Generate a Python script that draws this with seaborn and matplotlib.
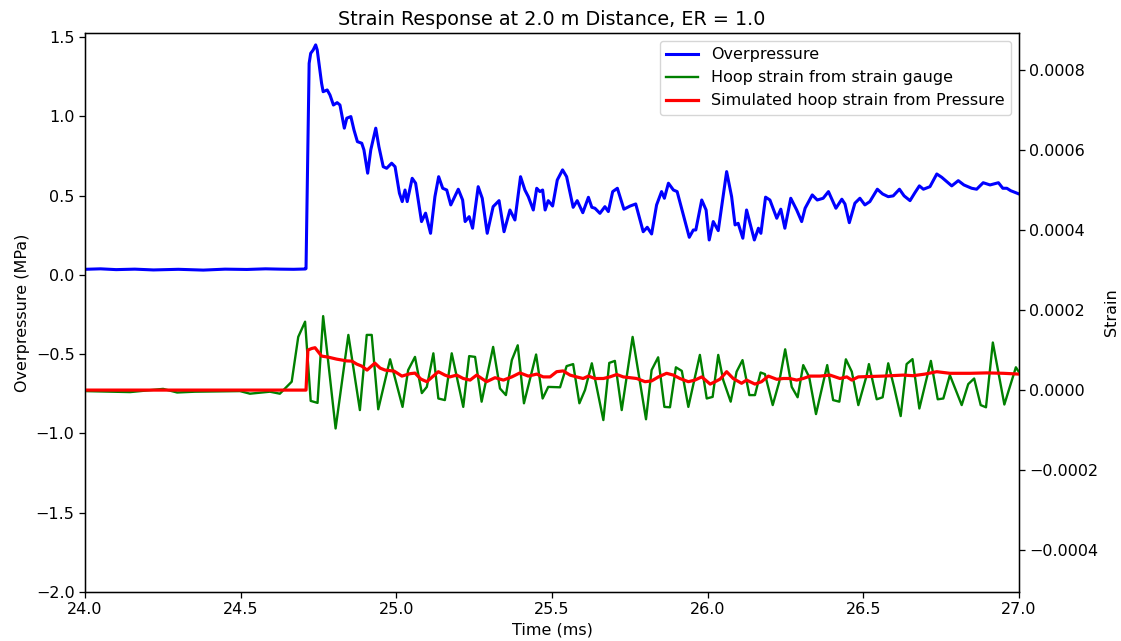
import numpy as np
import matplotlib
matplotlib.use("Agg")
import matplotlib.pyplot as plt
import seaborn as sns

# Overpressure record (time in ms, pressure in MPa)
p_time = [24.000, 24.050, 24.100, 24.160, 24.220, 24.300, 24.380, 24.450, 24.520, 24.580,
          24.626, 24.670, 24.708, 24.710, 24.720, 24.725, 24.733, 24.741, 24.746, 24.753,
          24.760, 24.765, 24.778, 24.787, 24.798, 24.810, 24.819, 24.833, 24.841, 24.854,
          24.864, 24.875, 24.889, 24.896, 24.908, 24.918, 24.934, 24.944, 24.958, 24.969,
          24.985, 24.996, 25.010, 25.019, 25.028, 25.035, 25.051, 25.062, 25.081, 25.094,
          25.110, 25.124, 25.136, 25.149, 25.162, 25.175, 25.199, 25.213, 25.221, 25.234,
          25.245, 25.263, 25.276, 25.292, 25.311, 25.330, 25.346, 25.365, 25.381, 25.399,
          25.413, 25.424, 25.440, 25.451, 25.461, 25.470, 25.478, 25.488, 25.502, 25.517,
          25.534, 25.547, 25.568, 25.581, 25.599, 25.617, 25.628, 25.638, 25.654, 25.670,
          25.681, 25.695, 25.710, 25.731, 25.751, 25.769, 25.793, 25.806, 25.820, 25.836,
          25.852, 25.861, 25.874, 25.890, 25.902, 25.941, 25.954, 25.962, 25.981, 25.995,
          26.005, 26.018, 26.034, 26.061, 26.077, 26.088, 26.098, 26.113, 26.125, 26.139,
          26.150, 26.163, 26.171, 26.186, 26.200, 26.222, 26.235, 26.248, 26.267, 26.286,
          26.302, 26.313, 26.336, 26.352, 26.371, 26.388, 26.412, 26.431, 26.441, 26.455,
          26.473, 26.489, 26.505, 26.521, 26.545, 26.562, 26.580, 26.596, 26.616, 26.631,
          26.650, 26.666, 26.680, 26.693, 26.714, 26.736, 26.752, 26.768, 26.784, 26.805,
          26.823, 26.848, 26.864, 26.885, 26.907, 26.934, 26.948, 26.961, 26.973, 26.993,
          27.000]
p_mpa = [0.035, 0.038, 0.033, 0.036, 0.031, 0.035, 0.030, 0.036, 0.034, 0.038,
         0.036, 0.035, 0.037, 0.040, 1.334, 1.397, 1.418, 1.450, 1.418, 1.313,
         1.208, 1.155, 1.166, 1.134, 1.071, 1.086, 1.071, 0.925, 0.988, 0.998,
         0.914, 0.840, 0.830, 0.788, 0.641, 0.788, 0.925, 0.809, 0.682, 0.672,
         0.704, 0.682, 0.515, 0.462, 0.535, 0.462, 0.609, 0.578, 0.336, 0.389,
         0.262, 0.493, 0.619, 0.546, 0.535, 0.441, 0.540, 0.472, 0.336, 0.367,
         0.294, 0.556, 0.483, 0.262, 0.430, 0.468, 0.272, 0.409, 0.346, 0.619,
         0.535, 0.493, 0.409, 0.546, 0.525, 0.535, 0.409, 0.468, 0.434, 0.598,
         0.662, 0.619, 0.426, 0.468, 0.392, 0.489, 0.426, 0.420, 0.388, 0.430,
         0.399, 0.525, 0.546, 0.414, 0.434, 0.447, 0.272, 0.300, 0.258, 0.441,
         0.525, 0.483, 0.578, 0.535, 0.525, 0.237, 0.283, 0.283, 0.472, 0.409,
         0.220, 0.336, 0.279, 0.651, 0.493, 0.315, 0.325, 0.231, 0.409, 0.304,
         0.220, 0.294, 0.262, 0.490, 0.472, 0.357, 0.414, 0.294, 0.483, 0.409,
         0.336, 0.420, 0.504, 0.472, 0.483, 0.525, 0.420, 0.477, 0.447, 0.329,
         0.452, 0.483, 0.441, 0.462, 0.540, 0.510, 0.493, 0.498, 0.540, 0.498,
         0.468, 0.519, 0.561, 0.540, 0.556, 0.636, 0.615, 0.588, 0.561, 0.594,
         0.567, 0.546, 0.540, 0.581, 0.567, 0.581, 0.546, 0.546, 0.531, 0.515,
         0.510]

# Strain gauge record (time in ms, hoop strain in microstrain)
g_time = [24.000, 24.145, 24.251, 24.296, 24.353, 24.498, 24.530, 24.594, 24.626, 24.664,
          24.685, 24.707, 24.725, 24.747, 24.765, 24.805, 24.846, 24.883, 24.905, 24.921,
          24.942, 24.980, 25.020, 25.038, 25.060, 25.082, 25.098, 25.119, 25.135, 25.156,
          25.178, 25.215, 25.234, 25.253, 25.274, 25.311, 25.333, 25.352, 25.371, 25.390,
          25.410, 25.449, 25.470, 25.488, 25.526, 25.547, 25.568, 25.588, 25.606, 25.628,
          25.665, 25.684, 25.702, 25.724, 25.759, 25.802, 25.820, 25.841, 25.861, 25.879,
          25.898, 25.917, 25.938, 25.975, 25.997, 26.016, 26.034, 26.050, 26.074, 26.093,
          26.112, 26.134, 26.152, 26.170, 26.184, 26.209, 26.230, 26.249, 26.270, 26.289,
          26.307, 26.326, 26.348, 26.384, 26.403, 26.423, 26.444, 26.463, 26.484, 26.511,
          26.518, 26.543, 26.562, 26.580, 26.599, 26.620, 26.639, 26.658, 26.680, 26.717,
          26.739, 26.757, 26.778, 26.816, 26.837, 26.856, 26.877, 26.894, 26.916, 26.953,
          26.990, 27.000]
g_ustrain = [-2.5, -5, 3, -6, -4, -2.5, -9, -4, -9, 21,
             133, 171, -27, -32, 185, -96, 138, -50, 138, 138,
             -48, 77, -42, 50, 83, -7.5, 8, 92, -21, -25,
             92, -42, 85, 83, -29, 108, 4, -12.5, 75, 112,
             -33, 89, -21, 8, 7, 60, 65, -33, 0, 67,
             -75, 68, 73, -50, 133, -73, 50, 82, -42, -43,
             57, 48, -42, 88, -21, -17, 88, 25, -29, 46,
             75, -12.5, -12.5, 44, 40, -37.5, 21, 102, 8, -18,
             62.5, 33, -60, 62.5, -25, -29, 77, 46, -37.5, 37.5,
             65, -23, -18, 67, 7, -65, 65, 77.5, -46, 73,
             -23, -21, 37.5, -37.5, 15, 29, -37.5, -43, 119, -36,
             57, 45]

# Hoop strain simulated from the pressure record (time in ms, microstrain)
s_time = [24.000, 24.710, 24.716, 24.728, 24.739, 24.749, 24.760, 24.781, 24.808, 24.841,
          24.857, 24.873, 24.889, 24.906, 24.931, 24.948, 24.964, 24.993, 25.018, 25.044,
          25.060, 25.079, 25.098, 25.135, 25.156, 25.172, 25.194, 25.215, 25.237, 25.258,
          25.290, 25.317, 25.344, 25.371, 25.397, 25.424, 25.451, 25.472, 25.494, 25.515,
          25.536, 25.558, 25.579, 25.600, 25.617, 25.638, 25.665, 25.686, 25.708, 25.729,
          25.772, 25.799, 25.820, 25.842, 25.868, 25.890, 25.911, 25.938, 25.959, 25.981,
          26.008, 26.024, 26.040, 26.061, 26.082, 26.109, 26.125, 26.152, 26.173, 26.195,
          26.222, 26.243, 26.264, 26.286, 26.307, 26.329, 26.361, 26.393, 26.425, 26.447,
          26.463, 26.484, 26.521, 26.564, 26.628, 26.660, 26.698, 26.736, 26.778, 26.843,
          26.896, 26.950, 27.000]
s_ustrain = [0, 0, 100, 104, 106, 96, 85, 82.5, 77.5, 73,
             72.5, 65, 60, 50, 67.5, 55, 50, 47.5, 35, 41,
             42.5, 27.5, 21, 46, 37.5, 33, 37.5, 29, 25, 37.5,
             21, 31, 25, 33, 43, 35, 40, 33, 33, 46,
             48, 37.5, 33, 29, 35, 29, 29, 33, 39, 33,
             29, 21, 23, 33, 42, 37.5, 29, 21, 25, 33,
             15, 21, 27.5, 46, 29, 17, 25, 15, 21, 35,
             27, 29, 29, 25, 29, 35, 35, 37.5, 29, 33,
             25, 33, 34, 35, 37.5, 36, 40, 46, 42, 42,
             43, 42, 40]

plt.rcParams.update({
    "font.size": 11.5,
    "axes.titlesize": 13.8,
    "axes.labelsize": 11.5,
    "xtick.labelsize": 11.5,
    "ytick.labelsize": 11.5,
    "legend.fontsize": 11.5,
    "xtick.major.size": 4.0,
    "ytick.major.size": 4.0,
    "xtick.major.width": 0.92,
    "ytick.major.width": 0.92,
    "axes.linewidth": 0.92,
})

fig = plt.figure(figsize=(11.21, 6.41), dpi=100)
ax = fig.add_axes([0.0758, 0.0764, 0.8332, 0.8721])
ax2 = ax.twinx()

sns.lineplot(x=p_time, y=p_mpa, ax=ax, color="blue", linewidth=2.2,
             label="Overpressure", legend=False, estimator=None)
sns.lineplot(x=g_time, y=np.array(g_ustrain) * 1e-6, ax=ax2, color="green",
             linewidth=1.7, label="Hoop strain from strain gauge", legend=False,
             estimator=None)
sns.lineplot(x=s_time, y=np.array(s_ustrain) * 1e-6, ax=ax2, color="red",
             linewidth=2.3, label="Simulated hoop strain from Pressure", legend=False,
             estimator=None)

ax.set_xlim(24.0, 27.0)
ax.set_ylim(-2.0, 1.525)
ax2.set_ylim(-0.000505, 0.000893)
ax.set_xticks([24.0, 24.5, 25.0, 25.5, 26.0, 26.5, 27.0])
ax.set_yticks([-2.0, -1.5, -1.0, -0.5, 0.0, 0.5, 1.0, 1.5])
ax2.set_yticks([-0.0004, -0.0002, 0.0, 0.0002, 0.0004, 0.0006, 0.0008])

ax.set_xlabel("Time (ms)")
ax.set_ylabel("Overpressure (MPa)")
ax2.set_ylabel("Strain")
ax.set_title("Strain Response at 2.0 m Distance, ER = 1.0")

h1, l1 = ax.get_legend_handles_labels()
h2, l2 = ax2.get_legend_handles_labels()
ax2.legend(h1 + h2, l1 + l2, loc="upper right")

fig.savefig("out.png", dpi=100)
